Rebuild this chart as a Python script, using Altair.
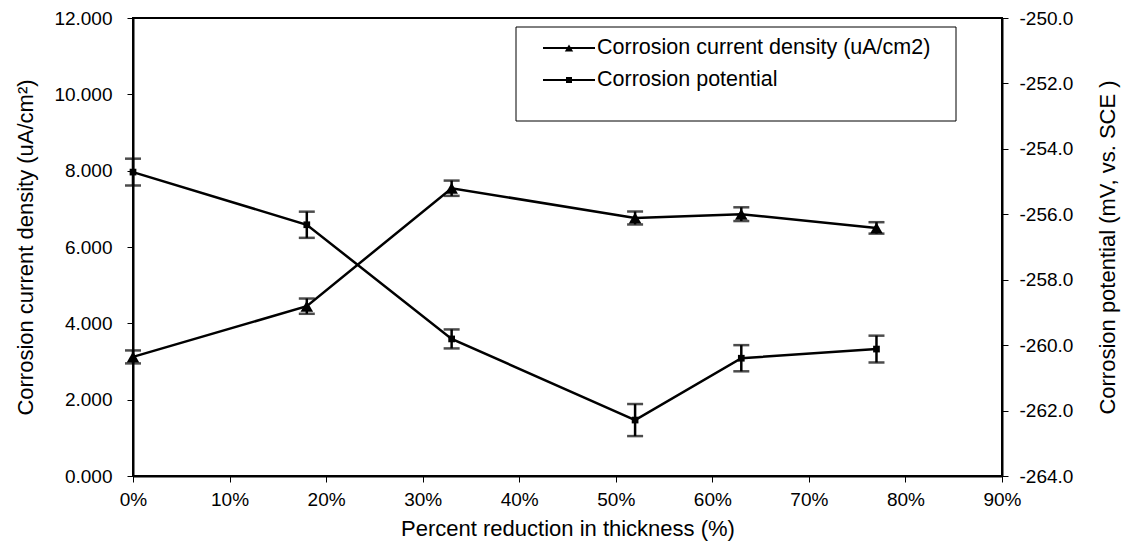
import altair as alt
import pandas as pd

# ---- data ----
reduction = [0, 18, 33, 52, 63, 77]                      # Percent reduction in thickness (%)
icorr = [3.12, 4.45, 7.54, 6.76, 6.86, 6.50]             # Corrosion current density (uA/cm2)
icorr_err = [0.17, 0.20, 0.20, 0.17, 0.18, 0.15]
ecorr = [-254.71, -256.32, -259.81, -262.29, -260.40, -260.12]   # Corrosion potential (mV vs SCE)
ecorr_err = [0.41, 0.40, 0.29, 0.49, 0.40, 0.41]

x_ticks = [0, 10, 20, 30, 40, 50, 60, 70, 80, 90]
left_ticks = [0, 2, 4, 6, 8, 10, 12]
right_ticks = [-264, -262, -260, -258, -256, -254, -252, -250]

legend_labels = ["Corrosion current density (uA/cm2)", "Corrosion potential"]

df = pd.DataFrame({
    "x": reduction,
    "i": icorr,
    "i_lo": [v - e for v, e in zip(icorr, icorr_err)],
    "i_hi": [v + e for v, e in zip(icorr, icorr_err)],
    "e": ecorr,
    "e_lo": [v - e for v, e in zip(ecorr, ecorr_err)],
    "e_hi": [v + e for v, e in zip(ecorr, ecorr_err)],
})

FONT = "Liberation Sans"
FS = 19
TFS = 22
LFS = 21.5
LW = 2.5

W, H = 869, 458

x_enc = alt.X(
    "x:Q",
    scale=alt.Scale(domain=[0, 90], nice=False, zero=False),
    axis=alt.Axis(
        values=x_ticks, labelExpr="datum.value + '%'", title="Percent reduction in thickness (%)",
        tickSize=6, labelPadding=8, titlePadding=9, labelFlush=False, grid=False,
    ),
)

left_axis = alt.Axis(
    values=left_ticks, format=".3f", orient="left",
    title="Corrosion current density (uA/cm²)",
    tickSize=6, labelPadding=15, titlePadding=16, grid=False,
)
right_axis = alt.Axis(
    values=right_ticks, orient="right",
    labelExpr="'-' + format(abs(datum.value), '.1f')",
    title="Corrosion potential (mV, vs. SCE )",
    tickSize=6, labelPadding=11, titlePadding=47, titleAngle=270, grid=False,
)

left_scale = alt.Scale(domain=[0, 12], nice=False, zero=False)
right_scale = alt.Scale(domain=[-264, -250], nice=False, zero=False)


def ly(field):
    return alt.Y(f"{field}:Q", scale=left_scale, axis=left_axis, title="Corrosion current density (uA/cm²)")


def ry(field):
    return alt.Y(f"{field}:Q", scale=right_scale, axis=right_axis, title="Corrosion potential (mV, vs. SCE )")


base = alt.Chart(df)

left = alt.layer(
    base.mark_line(color="black", strokeWidth=LW).encode(x=x_enc, y=ly("i")),
    base.mark_rule(color="black", strokeWidth=LW).encode(x=x_enc, y=ly("i_lo"), y2="i_hi:Q"),
    base.mark_tick(color="black", thickness=LW, size=16, orient="horizontal").encode(x=x_enc, y=ly("i_lo")),
    base.mark_tick(color="black", thickness=LW, size=16, orient="horizontal").encode(x=x_enc, y=ly("i_hi")),
    base.mark_point(shape="triangle-up", filled=True, color="black", size=160, opacity=1).encode(x=x_enc, y=ly("i")),
)

right = alt.layer(
    base.mark_line(color="black", strokeWidth=LW).encode(x=x_enc, y=ry("e")),
    base.mark_rule(color="black", strokeWidth=LW).encode(x=x_enc, y=ry("e_lo"), y2="e_hi:Q"),
    base.mark_tick(color="black", thickness=LW, size=16, orient="horizontal").encode(x=x_enc, y=ry("e_lo")),
    base.mark_tick(color="black", thickness=LW, size=16, orient="horizontal").encode(x=x_enc, y=ry("e_hi")),
    base.mark_point(shape="square", filled=True, color="black", size=45, opacity=1).encode(x=x_enc, y=ry("e")),
)

# ---- manual legend (box, line samples, markers, labels) ----
one = alt.Chart(pd.DataFrame({"k": [0]}))
lg_x0, lg_x1, lg_y0, lg_y1 = 383, 823, 9, 103
rows_y = [30, 62]
legend_layers = [
    one.mark_rect(fill="white", stroke="black", strokeWidth=1).encode(
        x=alt.value(lg_x0), x2=alt.value(lg_x1), y=alt.value(lg_y0), y2=alt.value(lg_y1)),
]
shapes = ["triangle-up", "square"]
sizes = [70, 36]
for yy, lab, shp, sz in zip(rows_y, legend_labels, shapes, sizes):
    d = alt.Chart(pd.DataFrame({"label": [lab]}))
    legend_layers.append(d.mark_rule(color="black", strokeWidth=2).encode(
        x=alt.value(410), x2=alt.value(462), y=alt.value(yy)))
    legend_layers.append(d.mark_point(shape=shp, filled=True, color="black", size=sz, opacity=1).encode(
        x=alt.value(436), y=alt.value(yy)))
    legend_layers.append(d.mark_text(align="left", baseline="middle", font=FONT, fontSize=LFS, color="black").encode(
        x=alt.value(464), y=alt.value(yy), text="label:N"))

chart = alt.layer(left, right, *legend_layers).resolve_scale(y="independent").properties(
    width=W, height=H,
    background="white",
    autosize=alt.AutoSizeParams(type="none"),
    padding={"left": 133, "top": 18, "right": 1140 - 133 - W, "bottom": 558 - 18 - H},
).configure_view(
    stroke="black", strokeWidth=2,
).configure_axis(
    grid=False, domainColor="black", domainWidth=2, tickColor="black", tickWidth=1,
    labelFont=FONT, labelFontSize=FS, labelColor="black",
    titleFont=FONT, titleFontSize=TFS, titleColor="black", titleFontWeight="normal",
)

chart.save("out.html", embed_options={"renderer": "svg", "actions": False})
